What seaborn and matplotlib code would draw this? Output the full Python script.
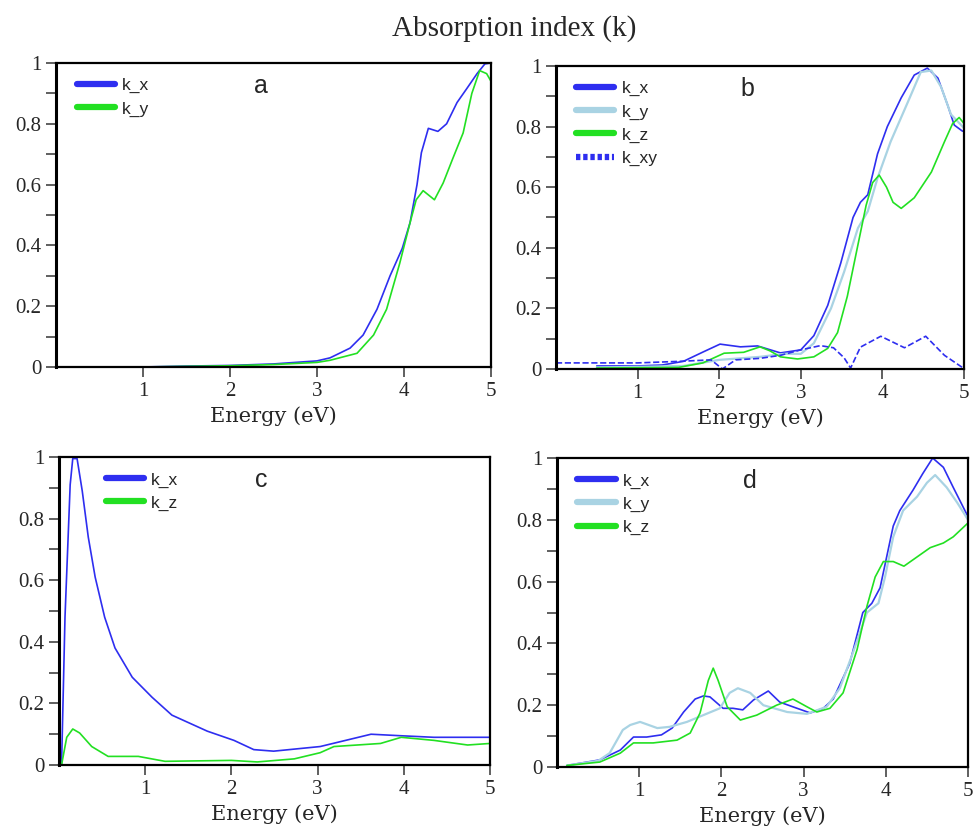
import seaborn as sns
import matplotlib.pyplot as plt
import numpy as np

# --------------------------
# data
# --------------------------
# panel a
a_x_e = [1.0, 1.5, 2.0, 2.5, 3.0, 3.15, 3.38, 3.53, 3.69, 3.84, 3.98, 4.07, 4.15, 4.20, 4.28, 4.39, 4.49, 4.61, 4.72, 4.84, 4.93, 5.0]
a_x_k = [0.0, 0.003, 0.005, 0.01, 0.02, 0.03, 0.062, 0.105, 0.19, 0.30, 0.39, 0.475, 0.60, 0.705, 0.785, 0.775, 0.80, 0.87, 0.915, 0.965, 0.997, 1.0]
a_y_e = [1.0, 1.5, 2.0, 2.5, 3.0, 3.15, 3.46, 3.65, 3.80, 3.95, 4.07, 4.14, 4.22, 4.35, 4.45, 4.56, 4.68, 4.78, 4.87, 4.95, 5.0]
a_y_k = [0.0, 0.002, 0.004, 0.008, 0.015, 0.022, 0.045, 0.105, 0.19, 0.34, 0.475, 0.55, 0.58, 0.55, 0.605, 0.685, 0.77, 0.90, 0.975, 0.965, 0.94]

# panel b
b_x_e = [0.5, 1.0, 1.3, 1.56, 1.81, 2.01, 2.26, 2.47, 2.75, 3.0, 3.16, 3.33, 3.49, 3.64, 3.73, 3.82, 3.94, 4.06, 4.23, 4.39, 4.55, 4.68, 4.80, 4.88, 4.98, 5.0]
b_x_k = [0.01, 0.01, 0.013, 0.025, 0.057, 0.082, 0.073, 0.076, 0.053, 0.063, 0.11, 0.21, 0.35, 0.50, 0.55, 0.575, 0.71, 0.80, 0.895, 0.97, 0.993, 0.96, 0.87, 0.805, 0.785, 0.785]
b_y_e = [0.5, 1.0, 1.56, 2.0, 2.5, 2.8, 3.0, 3.16, 3.37, 3.53, 3.70, 3.82, 3.94, 4.10, 4.31, 4.47, 4.6, 4.72, 4.84, 5.0]
b_y_k = [0.005, 0.007, 0.01, 0.03, 0.04, 0.05, 0.05, 0.085, 0.2, 0.32, 0.465, 0.52, 0.63, 0.75, 0.88, 0.98, 0.985, 0.93, 0.84, 0.795]
b_z_e = [0.5, 1.0, 1.5, 1.8, 2.06, 2.3, 2.5, 2.62, 2.75, 2.96, 3.16, 3.33, 3.45, 3.57, 3.70, 3.80, 3.88, 3.96, 4.05, 4.13, 4.23, 4.39, 4.6, 4.76, 4.86, 4.94, 5.0]
b_z_k = [0.003, 0.004, 0.005, 0.02, 0.052, 0.055, 0.073, 0.06, 0.04, 0.033, 0.04, 0.068, 0.12, 0.24, 0.41, 0.54, 0.615, 0.64, 0.60, 0.55, 0.53, 0.565, 0.65, 0.75, 0.81, 0.83, 0.81]
b_xy_e = [0.0, 1.0, 1.5, 1.9, 2.04, 2.2, 2.5, 2.75, 3.0, 3.24, 3.4, 3.53, 3.61, 3.73, 3.98, 4.27, 4.53, 4.76, 4.99]
b_xy_k = [0.02, 0.02, 0.025, 0.03, 0.0, 0.03, 0.035, 0.045, 0.063, 0.077, 0.07, 0.037, 0.003, 0.072, 0.108, 0.07, 0.108, 0.045, 0.003]

# panel c
c_x_e = [0.03, 0.07, 0.13, 0.16, 0.21, 0.27, 0.34, 0.42, 0.53, 0.65, 0.85, 1.08, 1.31, 1.72, 2.03, 2.26, 2.49, 3.03, 3.62, 3.97, 4.35, 5.0]
c_x_k = [0.0, 0.48, 0.91, 0.995, 0.995, 0.89, 0.74, 0.61, 0.48, 0.38, 0.285, 0.22, 0.162, 0.11, 0.08, 0.05, 0.045, 0.06, 0.1, 0.095, 0.09, 0.09]
c_z_e = [0.03, 0.09, 0.16, 0.24, 0.38, 0.57, 0.92, 1.23, 2.0, 2.3, 2.73, 3.03, 3.19, 3.73, 3.97, 4.35, 4.74, 5.0]
c_z_k = [0.0, 0.09, 0.117, 0.104, 0.06, 0.028, 0.028, 0.012, 0.015, 0.01, 0.02, 0.04, 0.06, 0.07, 0.09, 0.08, 0.065, 0.07]

# panel d
d_x_e = [0.12, 0.52, 0.77, 0.93, 1.09, 1.27, 1.40, 1.54, 1.68, 1.78, 1.86, 2.02, 2.14, 2.26, 2.39, 2.57, 2.71, 2.92, 3.08, 3.24, 3.36, 3.56, 3.72, 3.83, 3.93, 4.01, 4.09, 4.17, 4.33, 4.45, 4.57, 4.70, 4.82, 5.0]
d_x_k = [0.005, 0.023, 0.055, 0.097, 0.097, 0.104, 0.126, 0.178, 0.22, 0.23, 0.227, 0.19, 0.19, 0.185, 0.217, 0.246, 0.21, 0.19, 0.175, 0.19, 0.22, 0.335, 0.5, 0.53, 0.58, 0.68, 0.78, 0.83, 0.896, 0.95, 1.0, 0.97, 0.905, 0.81]
d_y_e = [0.12, 0.5, 0.64, 0.80, 0.89, 1.01, 1.22, 1.37, 1.58, 1.78, 1.98, 2.10, 2.20, 2.35, 2.51, 2.80, 3.04, 3.28, 3.44, 3.6, 3.77, 3.91, 3.99, 4.09, 4.21, 4.38, 4.50, 4.6, 4.74, 4.87, 5.0]
d_y_k = [0.005, 0.02, 0.045, 0.12, 0.136, 0.146, 0.126, 0.13, 0.146, 0.168, 0.19, 0.24, 0.255, 0.24, 0.2, 0.178, 0.172, 0.195, 0.255, 0.37, 0.5, 0.53, 0.615, 0.745, 0.83, 0.875, 0.92, 0.945, 0.905, 0.855, 0.8]
d_z_e = [0.12, 0.52, 0.77, 0.93, 1.17, 1.46, 1.62, 1.74, 1.84, 1.90, 1.96, 2.07, 2.23, 2.43, 2.67, 2.87, 3.04, 3.16, 3.32, 3.48, 3.65, 3.77, 3.87, 3.97, 4.09, 4.22, 4.38, 4.54, 4.70, 4.82, 5.0]
d_z_k = [0.005, 0.016, 0.045, 0.078, 0.078, 0.087, 0.11, 0.175, 0.28, 0.32, 0.28, 0.195, 0.152, 0.168, 0.2, 0.22, 0.195, 0.178, 0.19, 0.24, 0.38, 0.52, 0.615, 0.665, 0.665, 0.65, 0.68, 0.71, 0.725, 0.745, 0.79]

panel_letters = ['a', 'b', 'c', 'd']
y_ticks = [0, 0.2, 0.4, 0.6, 0.8, 1]
y_ticklabels = ['0', '0.2', '0.4', '0.6', '0.8', '1']
x_ticks = [1, 2, 3, 4, 5]

# --------------------------
# style
# --------------------------
sns.set_style("ticks")
plt.rcParams['font.family'] = ['Liberation Serif', 'DejaVu Serif']

BLUE = '#2e2ef0'
LIGHT = '#a9d3e3'
GREEN = '#22e022'

fig = plt.figure(figsize=(9.73, 8.31), dpi=100)

rects = [
    [0.0576, 0.5584, 0.4470, 0.3658],
    [0.5714, 0.5560, 0.4194, 0.3646],
    [0.0606, 0.0794, 0.4430, 0.3706],
    [0.5725, 0.0770, 0.4224, 0.3718],
]

series = [
    [(a_x_e, a_x_k, 'k_x', BLUE, '-'), (a_y_e, a_y_k, 'k_y', GREEN, '-')],
    [(b_x_e, b_x_k, 'k_x', BLUE, '-'), (b_y_e, b_y_k, 'k_y', LIGHT, '-'),
     (b_z_e, b_z_k, 'k_z', GREEN, '-'), (b_xy_e, b_xy_k, 'k_xy', BLUE, '--')],
    [(c_x_e, c_x_k, 'k_x', BLUE, '-'), (c_z_e, c_z_k, 'k_z', GREEN, '-')],
    [(d_x_e, d_x_k, 'k_x', BLUE, '-'), (d_y_e, d_y_k, 'k_y', LIGHT, '-'),
     (d_z_e, d_z_k, 'k_z', GREEN, '-')],
]

legend_anchor = [(0.02, 0.99), (0.02, 0.99), (0.08, 0.99), (0.02, 0.99)]

for i, rect in enumerate(rects):
    ax = fig.add_axes(rect)
    for e, k, lab, col, ls in series[i]:
        lw = 1.6 if col == LIGHT else 1.2
        sns.lineplot(x=e, y=k, ax=ax, color=col, linestyle=ls, linewidth=lw,
                     label=lab, sort=False, solid_joinstyle='round')

    ax.set_xlim(0, 5)
    ax.set_ylim(0, 1)
    ax.set_xticks(x_ticks)
    ax.set_yticks(y_ticks)
    ax.set_yticklabels(y_ticklabels)
    ax.set_yticks([0.1, 0.3, 0.5, 0.7, 0.9], minor=True)
    ax.tick_params(axis='both', which='major', labelsize=15, length=7, width=1.2,
                   direction='out', color='#444444')
    ax.tick_params(axis='y', which='minor', length=7, width=1.2, color='#444444')
    for side in ['top', 'right', 'bottom']:
        ax.spines[side].set_linewidth(1.6)
        ax.spines[side].set_color('black')
    ax.spines['left'].set_linewidth(2.2)
    ax.spines['left'].set_color('black')
    ax.set_xlabel('Energy (eV)', fontsize=15, family=['DejaVu Serif'], labelpad=4)
    ax.set_ylabel('')

    leg = ax.legend(loc='upper left', bbox_to_anchor=legend_anchor[i], frameon=False,
                    prop={'family': 'Liberation Sans', 'size': 12.5},
                    handlelength=2.2, handletextpad=0.4, labelspacing=0.45,
                    borderaxespad=0.3)
    for line in leg.get_lines():
        line.set_linewidth(4.5)
        if line.get_linestyle() == '--':
            line.set_linestyle((0, (0.7, 0.45)))

    ax.text(0.47, 0.925, panel_letters[i], transform=ax.transAxes, ha='center',
            va='center', fontsize=18, family=['Liberation Sans'])

fig.text(0.528, 0.966, 'Absorption index (k)', ha='center', va='center', fontsize=21)

plt.savefig('out.png', dpi=100)
plt.close()
